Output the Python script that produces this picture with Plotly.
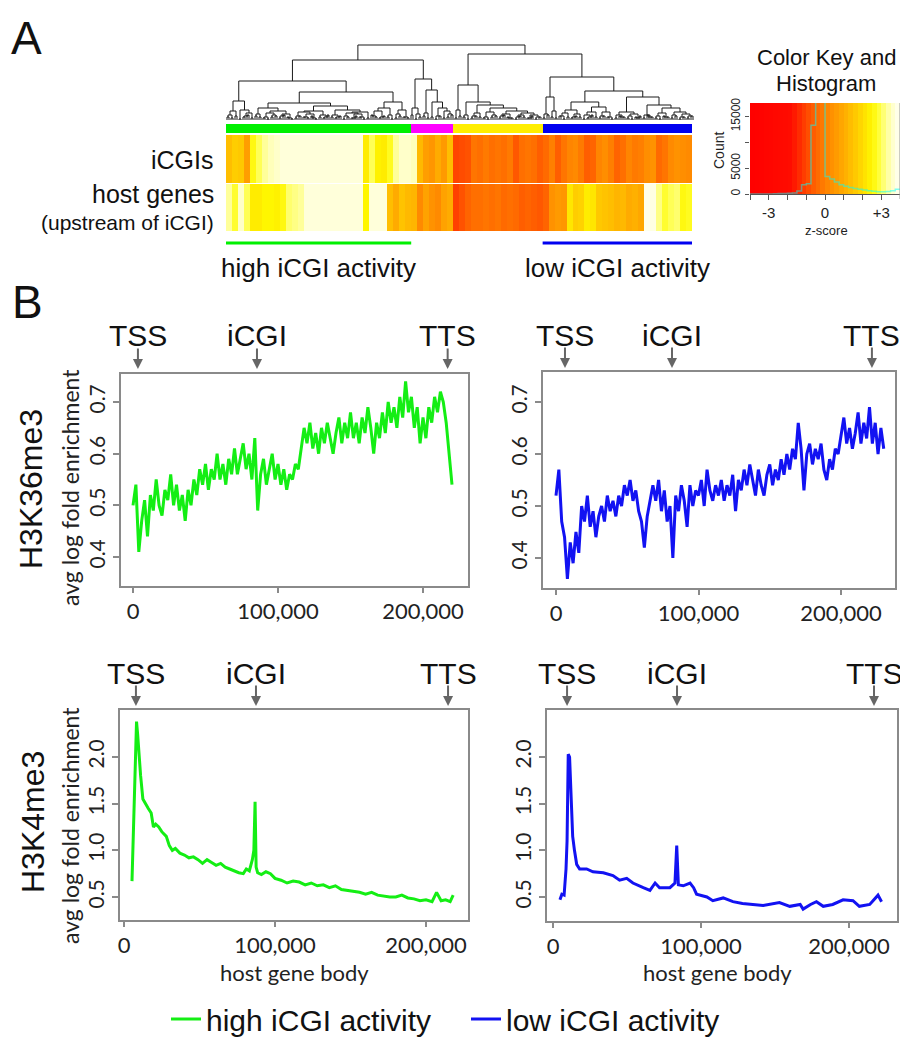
import plotly.graph_objects as go

# page body has an 8px margin: size the figure so reference pixel p lands on p
OFF = 8
FW, FH = 900, 1034
def fx(p): return min(1.0, max(0.0, (p - OFF) / FW))
def fy(p): return min(1.0, max(0.0, 1 - (p - OFF) / FH))

# ---------------- DATA ----------------
# dendrogram: merge height between each pair of adjacent leaves (leaf order)
dend_gaps = [5, 9, 19, 10, 4, 7,
             39,
             6, 12, 3, 7, 5, 9, 4, 6, 2,
             17,
             4, 8, 3, 6, 2, 9, 5, 3,
             14,
             5, 3, 10, 4, 7, 2, 6, 3, 8,
             28,
             4, 9, 3, 12, 5,
             18,
             6, 10, 3,
             60,
             12, 6,
             41,
             7,
             30,
             18, 4, 12, 9, 6,
             75,
             10,
             35,
             5,
             18,
             4, 7,
             15,
             3, 8, 5,
             12,
             4, 6, 2,
             9,
             3, 5,
             7,
             2, 5, 3,
             66,
             6, 23, 9,
             43,
             4, 7, 10, 3, 6,
             18,
             5, 3, 8, 13, 4, 8, 3,
             29,
             5, 3, 8, 4, 6, 2,
             23,
             5, 3,
             15,
             4, 7, 3, 12, 5, 8, 3, 6, 4]
# each leaf above is itself a pair of elements merged at this small height
leaf_pair_h = [3, 2, 4, 1, 3, 5, 2, 4, 3, 2, 1, 3, 4, 2, 5, 3, 1, 2, 4, 3,
               2, 4, 1, 3, 2, 5, 3, 2, 4, 1, 3, 2, 4, 3, 1, 2, 5, 3, 2, 4,
               3, 1, 2, 4, 3, 2, 5, 1, 3, 4, 2, 3, 1, 4, 2, 3, 5, 2, 4, 3,
               1, 2, 4, 3, 2, 1, 3, 4, 2, 5, 3, 2, 1, 4, 3, 2, 4, 1, 3, 2,
               5, 3, 2, 4, 1, 3, 2, 4, 3, 1, 2, 5, 3, 2, 4, 3, 1, 2, 4, 3,
               2, 1, 3, 4, 2, 5, 3, 2, 1, 4, 3, 2, 4, 1, 3, 2, 4]

# heatmap z-scores (columns in dendrogram order)
hm_icgi = [1.4, 1.7, 1.6, 0.7, 2.6, 3.0, 3.3, 3.5, 3.6,
           3.7, 3.7, 3.7, 3.7, 3.7, 3.7, 3.7, 3.7, 3.7, 3.7, 3.7, 3.7, 3.7, 3.7,
           2.3, 3.0, 2.4, 2.3, 2.7, 3.3, 3.6, 3.6, 3.5, 1.3, 0.7, 0.5, 1.0, 0.6, 1.4,
           -1.0, -0.9, -0.8, -0.2, -0.3, -0.1, -0.3, -0.2, -0.3, -0.1,
           -0.7, -0.3, -0.2, -0.3, -0.6, -0.4, 0.0, -0.6, -0.2, 0.1,
           0.2, -0.1, -0.6, -0.5, 0.1, 0.3, 0.0, -0.5, -0.3, 0.1,
           -0.1, 0.0, 0.3, 0.4, -0.4, -0.2, 0.2, 0.4, 0.3, 0.2]
hm_host = [3.3, 2.8, 3.6, 3.0, 2.3, 2.3, 2.5, 2.5, 2.4, 2.6, 3.1, 3.2, 3.3,
           3.7, 3.7, 3.7, 3.7, 3.7, 3.7, 3.7, 3.7, 3.7, 3.7,
           2.5, 3.7, 3.7, 3.7, 1.4, 1.0, 1.5, 1.3, 1.2, 0.2, 0.8, 0.4, 0.2, 0.8, 1.0,
           -1.1, -0.8, -0.5, -0.3, -0.3, -0.2, -0.3, -0.2, -0.4, -0.3,
           -0.4, -0.6, -0.5, -0.6, -0.7, -0.5, 0.4, 0.6, 0.5, 2.2,
           1.7, 1.8, 2.3, 2.2, 1.6, 1.5, 1.4, 1.2, 1.3, 1.0,
           1.1, 0.9, 3.9, 3.8, 3.2, 2.8, 3.0, 3.1, 2.6, 2.7]

cluster_sizes = [31, 7, 15, 25]
cluster_colors = ["#00F000", "#FF00FF", "#FFEE00", "#0000F0"]

# colour key histogram
hist_edges = [-4.0, -3.75, -3.5, -3.25, -3.0, -2.75, -2.5, -2.25, -2.0, -1.75, -1.5,
              -1.25, -1.0, -0.75, -0.5, -0.25, 0.0, 0.25, 0.5, 0.75, 1.0, 1.25,
              1.5, 1.75, 2.0, 2.25, 2.5, 2.75, 3.0, 3.25, 3.5, 3.75, 4.0]
hist_counts = [0, 0, 0, 0, 0, 50, 80, 100, 150, 200, 600, 1800, 2000, 13300,
               21000, 21000, 3400, 2900, 2300, 1800, 1500, 1250, 1050, 900, 750,
               620, 520, 450, 420, 480, 650, 900]

# profiles (position along host gene body, avg log fold enrichment)
k36_high_x = list(range(0, 220001, 2000))
k36_high = [0.50, 0.54, 0.41, 0.47, 0.51, 0.44, 0.52, 0.49, 0.55, 0.50,
            0.48, 0.53, 0.51, 0.56, 0.50, 0.54, 0.49, 0.52, 0.47, 0.53,
            0.50, 0.55, 0.52, 0.57, 0.54, 0.58, 0.53, 0.57, 0.55, 0.60,
            0.55, 0.58, 0.54, 0.59, 0.56, 0.61, 0.56, 0.59, 0.62, 0.57,
            0.60, 0.55, 0.63, 0.49, 0.56, 0.59, 0.54, 0.57, 0.60, 0.55,
            0.58, 0.54, 0.57, 0.53, 0.56, 0.55, 0.58, 0.57, 0.61, 0.65,
            0.62, 0.66, 0.61, 0.64, 0.60, 0.65, 0.62, 0.66, 0.63, 0.60,
            0.64, 0.67, 0.62, 0.66, 0.63, 0.68, 0.63, 0.66, 0.62, 0.67,
            0.64, 0.69, 0.65, 0.60, 0.66, 0.63, 0.68, 0.64, 0.70, 0.66,
            0.69, 0.65, 0.71, 0.67, 0.74, 0.68, 0.71, 0.65, 0.69, 0.62,
            0.67, 0.63, 0.69, 0.66, 0.71, 0.68, 0.72, 0.70, 0.66, 0.60, 0.54]
k36_low_x = list(range(0, 230001, 2000))
k36_low = [0.52, 0.57, 0.47, 0.44, 0.36, 0.43, 0.39, 0.45, 0.41, 0.50,
           0.47, 0.52, 0.46, 0.49, 0.44, 0.48, 0.50, 0.47, 0.52, 0.49,
           0.51, 0.48, 0.52, 0.50, 0.54, 0.52, 0.55, 0.51, 0.53, 0.49,
           0.47, 0.42, 0.48, 0.51, 0.54, 0.51, 0.55, 0.49, 0.53, 0.47,
           0.50, 0.40, 0.52, 0.49, 0.54, 0.51, 0.46, 0.54, 0.50, 0.53,
           0.52, 0.55, 0.50, 0.57, 0.53, 0.51, 0.54, 0.52, 0.55, 0.51,
           0.54, 0.52, 0.56, 0.49, 0.55, 0.53, 0.57, 0.54, 0.58, 0.55,
           0.52, 0.57, 0.54, 0.52, 0.56, 0.58, 0.54, 0.57, 0.55, 0.59,
           0.56, 0.60, 0.57, 0.61, 0.59, 0.66, 0.61, 0.53, 0.60, 0.62,
           0.58, 0.61, 0.59, 0.62, 0.57, 0.55, 0.59, 0.57, 0.61, 0.60,
           0.64, 0.67, 0.62, 0.65, 0.61, 0.64, 0.68, 0.62, 0.66, 0.63,
           0.69, 0.62, 0.66, 0.60, 0.65, 0.61]
k4_high_x = [5300, 6500, 7500, 8300, 9000, 10000, 11000, 12500, 14000, 16000,
             18000, 19500, 21000, 23000, 25000, 28000, 30000, 32000, 34000, 37000,
             40000, 43000, 46000, 49000, 52000, 55000, 58000, 61000, 64000, 67000,
             70000, 73000, 76000, 79000, 81000, 83000, 85000, 86000, 86800, 87500,
             88500, 91000, 94000, 97000, 100000, 104000, 108000, 112000, 116000, 120000,
             124000, 128000, 132000, 136000, 140000, 144000, 148000, 152000, 156000, 160000,
             164000, 168000, 172000, 176000, 180000, 184000, 188000, 192000, 196000, 200000,
             204000, 207000, 210000, 213000, 216000, 218000]
k4_high = [0.67, 1.30, 2.05, 2.38, 2.25, 2.00, 1.80, 1.55, 1.50, 1.45,
           1.40, 1.25, 1.28, 1.25, 1.20, 1.15, 1.05, 1.00, 1.02, 0.97,
           0.95, 0.92, 0.93, 0.90, 0.86, 0.90, 0.87, 0.84, 0.86, 0.82,
           0.80, 0.78, 0.76, 0.75, 0.80, 0.78, 0.90, 1.00, 1.52, 0.82,
           0.76, 0.74, 0.77, 0.75, 0.70, 0.68, 0.65, 0.67, 0.66, 0.63,
           0.65, 0.62, 0.63, 0.60, 0.62, 0.58, 0.57, 0.56, 0.55, 0.53,
           0.55, 0.52, 0.51, 0.50, 0.50, 0.52, 0.49, 0.48, 0.46, 0.47,
           0.45, 0.55, 0.46, 0.47, 0.45, 0.52]
k4_low_x = [4700, 6000, 7500, 8800, 9500, 9900, 10300, 11200, 11800, 12400,
            13300, 14500, 16000, 18000, 22700, 27000, 34000, 40500, 45000, 49800,
            54000, 61000, 65500, 69000, 72000, 79000, 82400, 83600, 84700, 88000,
            92600, 95000, 97000, 104000, 108000, 115000, 121600, 128000, 135000, 142000,
            153000, 160000, 167000, 169000, 174000, 178000, 182600, 189000, 196000, 202700,
            207000, 214000, 219600, 222000]
k4_low = [0.47, 0.53, 0.52, 0.80, 1.10, 1.65, 2.03, 2.00, 1.75, 1.60,
          1.15, 1.00, 0.85, 0.80, 0.80, 0.77, 0.76, 0.73, 0.68, 0.70,
          0.65, 0.60, 0.57, 0.65, 0.60, 0.60, 0.65, 1.05, 0.63, 0.62,
          0.65, 0.60, 0.53, 0.50, 0.46, 0.49, 0.45, 0.43, 0.42, 0.41,
          0.44, 0.40, 0.42, 0.37, 0.42, 0.45, 0.40, 0.42, 0.47, 0.46,
          0.40, 0.42, 0.52, 0.45]

# landmark positions (TSS, iCGI, TTS) per panel
landmark_names = ["TSS", "iCGI", "TTS"]
marks_k36_high = [3400, 85500, 217000]
marks_k36_low = [6300, 81400, 221700]
marks_k4_high = [7900, 87400, 214600]
marks_k4_low = [9500, 83800, 216900]

x_tick_vals = [0, 100000, 200000]
x_tick_text = ["0", "100,000", "200,000"]
k36_tick_vals = [0.4, 0.5, 0.6, 0.7]
k36_tick_text = ["0.4", "0.5", "0.6", "0.7"]
k4_tick_vals = [0.5, 1.0, 1.5, 2.0]
k4_tick_text = ["0.5", "1.0", "1.5", "2.0"]
key_tick_vals = [-4, -3, -2, -1, 0, 1, 2, 3, 4]
key_tick_text = ["", "-3", "", "", "0", "", "", "+3", ""]
count_tick_vals = [0, 5000, 10000, 15000]
count_tick_text = ["0", "5000", "", "15000"]
series_names = ["high iCGI activity", "low iCGI activity"]

# ---------------- STYLE ----------------
GREEN = "#14EE14"
BLUE = "#1212F2"
GRAY = "#8a8a8a"
ARIAL = "Liberation Sans"
heat_scale = [[0.0, "#FF0000"], [0.275, "#FF0C00"], [0.375, "#FF4600"],
              [0.45, "#FF6A00"], [0.525, "#FF8A00"], [0.6, "#FFA200"],
              [0.675, "#FFBE00"], [0.75, "#FFDC00"], [0.8125, "#FFF600"],
              [0.8625, "#FFFF40"], [0.9125, "#FFFF9A"], [0.9625, "#FFFFDA"],
              [1.0, "#FFFFF4"]]

def txt(text, x, y, size, family=ARIAL, xref="paper", xanchor="center",
        angle=0, color="#111"):
    return dict(text=text, x=x, y=y, xref=xref, yref="paper", xanchor=xanchor,
                yanchor="middle", showarrow=False, textangle=angle,
                font=dict(family=family, size=size, color=color))

fig = go.Figure()
layout = {}
ann = []
shapes = []

# ---------- dendrogram ----------
segs_x, segs_y = [], []
def build(a, b):
    if a == b:
        ph = leaf_pair_h[a]
        segs_x.extend([a - 0.25, a - 0.25, a + 0.25, a + 0.25, None])
        segs_y.extend([0, ph, ph, 0, None])
        return float(a), ph
    sub = dend_gaps[a:b]
    m = a + sub.index(max(sub))
    xl, hl = build(a, m)
    xr, hr = build(m + 1, b)
    h = dend_gaps[m]
    segs_x.extend([xl, xl, xr, xr, None])
    segs_y.extend([hl, h, h, hr, None])
    return (xl + xr) / 2, h

n_leaves = len(dend_gaps) + 1
build(0, n_leaves - 1)
fig.add_trace(go.Scatter(x=segs_x, y=segs_y, mode="lines",
                         line=dict(color="#1a1a1a", width=1),
                         xaxis="x", yaxis="y", showlegend=False, hoverinfo="skip"))
layout["xaxis"] = dict(domain=[fx(226), fx(694)], range=[-0.5, n_leaves - 0.5],
                       visible=False, anchor="y")
layout["yaxis"] = dict(domain=[fy(121), fy(44)], range=[-1, max(dend_gaps) + 1],
                       visible=False, anchor="x")

# ---------- heatmap ----------
ncol = len(hm_icgi)
cols = list(range(ncol))
fig.add_trace(go.Heatmap(z=[hm_host, hm_icgi], x=cols, y=[0, 1], zmin=-4, zmax=4,
                         colorscale=heat_scale, showscale=False, ygap=1,
                         xaxis="x2", yaxis="y2", hoverinfo="skip"))
layout["xaxis2"] = dict(domain=[fx(226), fx(692)], range=[-0.5, ncol - 0.5],
                        visible=False, anchor="y2")
layout["yaxis2"] = dict(domain=[fy(232), fy(135)], range=[-0.5, 1.5],
                        visible=False, anchor="x2")

# side colour bar (clusters)
side, starts = [], []
s = 0
for ci, n in enumerate(cluster_sizes):
    starts.append(s)
    side.extend([ci] * n)
    s += n
nc = len(cluster_sizes)
side_scale = []
for ci, c in enumerate(cluster_colors):
    side_scale.append([ci / nc, c])
    side_scale.append([(ci + 1) / nc, c])
fig.add_trace(go.Heatmap(z=[side], x=cols, y=[0], zmin=-0.5, zmax=nc - 0.5,
                         colorscale=side_scale, showscale=False,
                         xaxis="x3", yaxis="y3", hoverinfo="skip"))
layout["xaxis3"] = dict(domain=[fx(226), fx(692)], range=[-0.5, ncol - 0.5],
                        visible=False, anchor="y3")
layout["yaxis3"] = dict(domain=[fy(133), fy(124)], range=[-0.5, 0.5],
                        visible=False, anchor="x3")

# row labels
ann.append(txt("iCGIs", fx(216), fy(160), 25, xanchor="right"))
ann.append(txt("host genes", fx(216), fy(194), 25, xanchor="right"))
ann.append(txt("(upstream of iCGI)", fx(216), fy(222), 21, xanchor="right"))

# activity underlines + labels (first = high, last = low cluster)
for ci, lab in [(0, "high iCGI activity"), (nc - 1, "low iCGI activity")]:
    a = starts[ci] - 0.5
    b = starts[ci] + cluster_sizes[ci] - 0.5
    shapes.append(dict(type="line", xref="x2", yref="paper", x0=a, x1=b,
                       y0=fy(243), y1=fy(243),
                       line=dict(color=cluster_colors[ci], width=3)))
    ann.append(txt(lab, (a + b) / 2, fy(268), 26, xref="x2"))

# ---------- colour key ----------
band_mid = [(hist_edges[i] + hist_edges[i + 1]) / 2 for i in range(len(hist_edges) - 1)]
fig.add_trace(go.Heatmap(z=[band_mid], x=hist_edges, y=[0, 17600], zmin=-4, zmax=4,
                         colorscale=heat_scale, showscale=False,
                         xaxis="x4", yaxis="y4", hoverinfo="skip"))
fig.add_trace(go.Scatter(x=hist_edges, y=hist_counts + [hist_counts[-1]], mode="lines",
                         line=dict(color="rgba(0,255,255,0.5)", width=1.5, shape="hv"),
                         xaxis="x4", yaxis="y4", showlegend=False, hoverinfo="skip"))
layout["xaxis4"] = dict(domain=[fx(750), fx(900)], range=[-4, 4], anchor="y4",
                        tickvals=key_tick_vals, ticktext=key_tick_text,
                        ticks="outside", ticklen=5, tickcolor="#555", showline=True,
                        linecolor="#555", linewidth=1, showgrid=False, zeroline=False,
                        tickfont=dict(family=ARIAL, size=15, color="#222"))
layout["yaxis4"] = dict(domain=[fy(194), fy(103)], range=[0, 17600], anchor="x4",
                        tickvals=count_tick_vals, ticktext=count_tick_text,
                        tickangle=-90, ticks="outside", ticklen=4, tickcolor="#555",
                        showline=False, showgrid=False, zeroline=False,
                        tickfont=dict(family=ARIAL, size=12, color="#222"))
shapes.append(dict(type="line", xref="paper", yref="paper", x0=fx(900), x1=fx(900),
                   y0=fy(199), y1=fy(103), line=dict(color="#999", width=1)))
ann.append(txt("Count", fx(719), fy(151), 14, angle=-90, color="#222"))
ann.append(txt("z-score", fx(826), fy(230), 13, color="#222"))
ann.append(txt("Color Key and", fx(826), fy(57), 22))
ann.append(txt("Histogram", fx(826), fy(84), 22))

# ---------- profile panels ----------
panels = [
    dict(n=5, x=k36_high_x, y=k36_high, color=GREEN, name=series_names[0], legend=False,
         box=(121, 468, 374, 586), xr=[-8276, 231034], yr=[0.3439, 0.7542],
         tv=k36_tick_vals, tt=k36_tick_text, marks=marks_k36_high, lab_y=335, tip=369, w=3),
    dict(n=6, x=k36_low_x, y=k36_low, color=BLUE, name=series_names[1], legend=False,
         box=(543, 895, 372, 588), xr=[-9123, 237895], yr=[0.3423, 0.7577],
         tv=k36_tick_vals, tt=k36_tick_text, marks=marks_k36_low, lab_y=335, tip=368, w=3),
    dict(n=7, x=k4_high_x, y=k4_high, color=GREEN, name=series_names[0], legend=True,
         box=(120, 468, 710, 920), xr=[-2649, 227815], yr=[0.2536, 2.5036],
         tv=k4_tick_vals, tt=k4_tick_text, marks=marks_k4_high, lab_y=673, tip=706, w=3),
    dict(n=8, x=k4_low_x, y=k4_low, color=BLUE, name=series_names[1], legend=True,
         box=(547, 897, 710, 921), xr=[-4054, 232432], yr=[0.2429, 2.5036],
         tv=k4_tick_vals, tt=k4_tick_text, marks=marks_k4_low, lab_y=673, tip=706, w=3),
]
for p in panels:
    n = p["n"]
    x0, x1, y0, y1 = p["box"]
    fig.add_trace(go.Scatter(x=p["x"], y=p["y"], mode="lines", name=p["name"],
                             line=dict(color=p["color"], width=p["w"]),
                             xaxis=f"x{n}", yaxis=f"y{n}", showlegend=p["legend"]))
    layout[f"xaxis{n}"] = dict(domain=[fx(x0), fx(x1)], range=p["xr"], anchor=f"y{n}",
                               tickvals=x_tick_vals, ticktext=x_tick_text,
                               ticks="outside", ticklen=5, tickwidth=1.5, tickcolor=GRAY,
                               showline=True, linecolor=GRAY, linewidth=1.5, mirror=True,
                               showgrid=False, zeroline=False,
                               tickfont=dict(family="Lato", size=22, color="#222"))
    layout[f"yaxis{n}"] = dict(domain=[fy(y1), fy(y0)], range=p["yr"], anchor=f"x{n}",
                               tickvals=p["tv"], ticktext=p["tt"], tickangle=-90,
                               ticks="outside", ticklen=6, tickwidth=1.5, tickcolor=GRAY,
                               showline=True, linecolor=GRAY, linewidth=1.5, mirror=True,
                               showgrid=False, zeroline=False,
                               tickfont=dict(family="Lato", size=21, color="#222"))
    for nm, pos in zip(landmark_names, p["marks"]):
        ann.append(txt(nm, pos, fy(p["lab_y"]), 30, xref=f"x{n}"))
        ann.append(dict(text="", x=pos, y=fy(p["tip"]), xref=f"x{n}", yref="paper",
                        showarrow=True, ax=0, ay=-22, arrowhead=2, arrowsize=1,
                        arrowwidth=2, arrowcolor="#666"))

# row titles and axis titles
ann.append(txt("H3K36me3", fx(31), fy(489), 32, angle=-90))
ann.append(txt("H3K4me3", fx(33), fy(822), 32, angle=-90))
for yc in (488, 826):
    ann.append(txt("avg log fold enrichment", fx(70), fy(yc), 23, family="Lato",
                   angle=-90, color="#222"))
for xc in (294, 717):
    ann.append(txt("host gene body", fx(xc), fy(972), 22, family="Lato", color="#222"))

# panel letters
ann.append(txt("A", fx(26), fy(38), 46))
ann.append(txt("B", fx(27), fy(302), 46))

fig.update_layout(**layout)
fig.update_layout(width=FW, height=FH,
                  margin=dict(l=0, r=0, t=0, b=0, autoexpand=False),
                  paper_bgcolor="white", plot_bgcolor="white",
                  font=dict(family=ARIAL, color="#111"),
                  annotations=ann, shapes=shapes, showlegend=True,
                  legend=dict(orientation="h", x=fx(166), xanchor="left",
                              y=fy(1019), yanchor="middle", entrywidth=255,
                              font=dict(family=ARIAL, size=30, color="#111"),
                              bgcolor="rgba(0,0,0,0)"))
fig.write_html("out.html")
